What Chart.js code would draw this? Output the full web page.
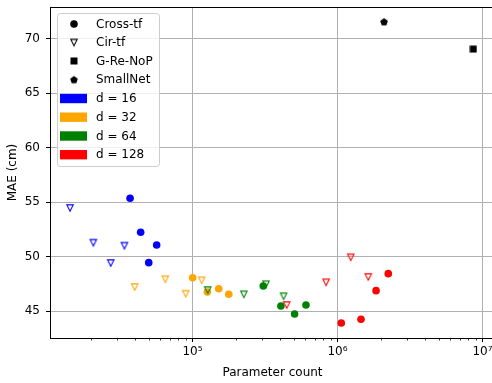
<!DOCTYPE html>
<html>
<head>
<meta charset="utf-8">
<script src="https://cdn.jsdelivr.net/npm/chart.js@4.4.1/dist/chart.umd.min.js"></script>
<style>
html,body{margin:0;padding:0;background:#fff;overflow:hidden;}
#wrap{width:492px;height:383px;overflow:hidden;}
</style>
</head>
<body>
<div id="wrap"><canvas id="c" width="500" height="383"></canvas></div>
<script>
// ---- data ----
const methodNames = ['Cross-tf', 'Cir-tf', 'G-Re-NoP', 'SmallNet'];
const dimLabels = ['d = 16', 'd = 32', 'd = 64', 'd = 128'];
const dimColors = ['#0000ff', '#ffa500', '#008000', '#ff0000'];

const crossX16 = [37100, 43900, 56600, 49900];
const crossY16 = [55.37, 52.25, 51.08, 49.46];
const crossX32 = [100300, 126600, 151700, 177800];
const crossY32 = [48.08, 46.77, 47.07, 46.56];
const crossX64 = [307800, 407000, 506000, 606000];
const crossY64 = [47.32, 45.49, 44.75, 45.58];
const crossX128 = [1062000, 1452000, 1845000, 2240000];
const crossY128 = [43.93, 44.27, 46.89, 48.45];

const cirX16 = [14300, 20700, 33900, 27300];
const cirY16 = [54.48, 51.29, 51.02, 49.43];
const cirX32 = [39900, 64900, 89800, 115700];
const cirY32 = [47.23, 47.94, 46.61, 47.84];
const cirX64 = [127300, 226000, 321000, 425000];
const cirY64 = [46.95, 46.56, 47.48, 46.38];
const cirX128 = [446000, 834000, 1233000, 1630000];
const cirY128 = [45.58, 47.66, 49.95, 48.15];

const greX = [8650000];
const greY = [69.04];
const smallX = [2094000];
const smallY = [71.54];

const xTickValues = [1e5, 1e6, 1e7];
const xTickLabels = ['10\u2075', '10\u2076', '10\u2077'];
const yTickValues = [45, 50, 55, 60, 65, 70];

// ---- marker images ----
function triImg(color) {
  const c = document.createElement('canvas');
  c.width = 10; c.height = 10;
  const g = c.getContext('2d');
  g.strokeStyle = color; g.lineWidth = 1.1;
  g.beginPath();
  g.moveTo(1.8, 1.9); g.lineTo(8.2, 1.9); g.lineTo(5, 8.2); g.closePath();
  g.stroke();
  return c;
}
function squareImg(color) {
  const c = document.createElement('canvas');
  c.width = 8; c.height = 8;
  const g = c.getContext('2d');
  g.fillStyle = color; g.fillRect(0.5, 0.5, 7, 7);
  return c;
}
function pentImg(color) {
  const c = document.createElement('canvas');
  c.width = 10; c.height = 10;
  const g = c.getContext('2d');
  g.fillStyle = color; g.beginPath();
  for (let i = 0; i < 5; i++) {
    const a = -Math.PI / 2 + i * 2 * Math.PI / 5;
    const px = 5 + 4 * Math.cos(a), py = 5.3 + 4 * Math.sin(a);
    if (i === 0) g.moveTo(px, py); else g.lineTo(px, py);
  }
  g.closePath(); g.fill();
  return c;
}
function pts(xs, ys) { return xs.map((x, i) => ({x: x, y: ys[i]})); }

const crossSets = [[crossX16, crossY16], [crossX32, crossY32], [crossX64, crossY64], [crossX128, crossY128]];
const cirSets = [[cirX16, cirY16], [cirX32, cirY32], [cirX64, cirY64], [cirX128, cirY128]];

const datasets = [];
datasets.push({data: pts(smallX, smallY), pointStyle: pentImg('#000'), pointRadius: 4});
datasets.push({data: pts(greX, greY), pointStyle: squareImg('#000'), pointRadius: 4});
for (let i = 3; i >= 0; i--) {
  datasets.push({data: pts(cirSets[i][0], cirSets[i][1]), pointStyle: triImg(dimColors[i]), pointRadius: 4});
}
for (let i = 3; i >= 0; i--) {
  datasets.push({data: pts(crossSets[i][0], crossSets[i][1]), pointStyle: 'circle', pointRadius: 3.8,
    backgroundColor: dimColors[i], borderWidth: 0, borderColor: dimColors[i]});
}

const FONT = "'DejaVu Sans', sans-serif";

const decor = {
  id: 'decor',
  afterDraw(chart) {
    const ctx = chart.ctx;
    const a = chart.chartArea;
    const xs = chart.scales.x;
    ctx.save();
    // minor ticks
    ctx.strokeStyle = '#000'; ctx.lineWidth = 0.8;
    for (let p = 4; p <= 7; p++) {
      for (let k = 2; k <= 9; k++) {
        const v = k * Math.pow(10, p);
        if (v < xs.min || v > xs.max) continue;
        const px = Math.round(xs.getPixelForValue(v)) + 0.5;
        ctx.beginPath(); ctx.moveTo(px, a.bottom); ctx.lineTo(px, a.bottom + 2.5); ctx.stroke();
      }
    }
    // top and right spines
    ctx.lineWidth = 1;
    ctx.strokeStyle = '#000';
    const top = Math.round(a.top) + 0.5, right = Math.round(a.right) + 0.5;
    ctx.beginPath();
    ctx.moveTo(a.left, top); ctx.lineTo(right, top); ctx.lineTo(right, a.bottom);
    ctx.stroke();
    // legend
    const lx = 57, ly = 13, lw = 102, lh = 153;
    ctx.beginPath();
    if (ctx.roundRect) ctx.roundRect(lx + 0.5, ly + 0.5, lw, lh, 3); else ctx.rect(lx + 0.5, ly + 0.5, lw, lh);
    ctx.fillStyle = 'rgba(255,255,255,0.8)'; ctx.fill();
    ctx.strokeStyle = '#cccccc'; ctx.lineWidth = 1; ctx.stroke();
    const rowY = [24, 42.5, 61, 79.7, 98.5, 117.2, 136, 154.7];
    const mx = 74, tx = 96;
    ctx.font = '12px ' + FONT;
    ctx.fillStyle = '#000';
    ctx.textBaseline = 'middle'; ctx.textAlign = 'left';
    // method markers
    ctx.beginPath(); ctx.arc(mx, rowY[0], 3.8, 0, Math.PI * 2); ctx.fillStyle = '#000'; ctx.fill();
    const tri = triImg('#000'); ctx.drawImage(tri, mx - 5, rowY[1] - 5);
    const sq = squareImg('#000'); ctx.drawImage(sq, mx - 4, rowY[2] - 4);
    const pe = pentImg('#000'); ctx.drawImage(pe, mx - 5, rowY[3] - 5);
    ctx.fillStyle = '#000';
    for (let i = 0; i < methodNames.length; i++) {
      ctx.fillText(methodNames[i], tx, rowY[i] + 0.5);
    }
    for (let i = 0; i < dimLabels.length; i++) {
      const y = rowY[4 + i];
      ctx.fillStyle = dimColors[i];
      ctx.fillRect(60, y - 4.7, 27, 9.4);
      ctx.fillStyle = '#000';
      ctx.fillText(dimLabels[i], tx, y + 0.5);
    }
    ctx.restore();
  }
};

new Chart(document.getElementById('c'), {
  type: 'scatter',
  data: {datasets: datasets},
  options: {
    responsive: false,
    animation: false,
    devicePixelRatio: 1,
    layout: {autoPadding: false, padding: {top: 7, right: 5, left: 0, bottom: 0}},
    plugins: {legend: {display: false}, tooltip: {enabled: false}},
    scales: {
      x: {
        type: 'logarithmic',
        min: 10404, max: 12196000,
        afterBuildTicks(s) { s.ticks = xTickValues.map(v => ({value: v, major: true})); },
        afterFit(s) { s.height = 45; s.paddingLeft = 0; s.paddingRight = 0; },
        ticks: {
          autoSkip: false, maxRotation: 0, padding: 3,
          color: '#000', font: {family: FONT, size: 12},
          callback(v) { const i = xTickValues.indexOf(v); return i >= 0 ? xTickLabels[i] : ''; }
        },
        grid: {color: '#b0b0b0', lineWidth: 1, tickColor: '#000', tickLength: 4, drawTicks: true},
        border: {color: '#000', width: 1},
        title: {display: true, text: 'Parameter count', color: '#000', font: {family: FONT, size: 12}, padding: {top: 0, bottom: 3}}
      },
      y: {
        type: 'linear',
        min: 42.55, max: 72.9,
        afterBuildTicks(s) { s.ticks = yTickValues.map(v => ({value: v})); },
        afterFit(s) { s.width = 50; s.paddingTop = 0; s.paddingBottom = 0; },
        ticks: {padding: 6, color: '#000', font: {family: FONT, size: 12}},
        grid: {color: '#b0b0b0', lineWidth: 1, tickColor: '#000', tickLength: 4},
        border: {color: '#000', width: 1},
        title: {display: true, text: 'MAE (cm)', color: '#000', font: {family: FONT, size: 12}, padding: {top: 6, bottom: 0}}
      }
    }
  },
  plugins: [decor]
});
</script>
</body>
</html>
